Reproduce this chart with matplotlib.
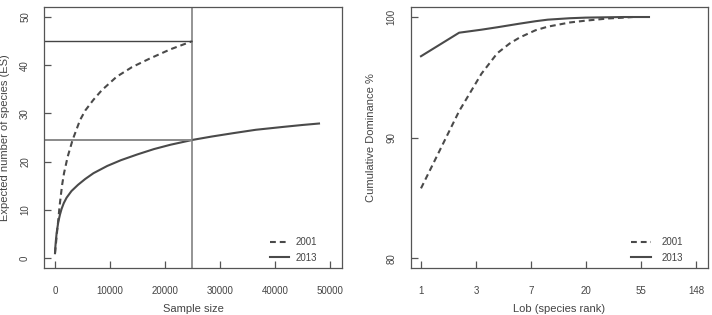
import numpy as np
import matplotlib
matplotlib.use("Agg")
import matplotlib.pyplot as plt

plt.rcParams['font.family'] = ['Liberation Sans', 'DejaVu Sans']

# ---- data: rarefaction (left) ----
samp_2001 = [1, 120, 240, 420, 600, 800, 1030, 1300, 1640, 2300, 3200, 4545, 5500,
             6970, 8500, 11200, 14000, 17270, 21000, 25000]
es_2001 = [1, 2.4, 3.8, 6.0, 7.9, 10.4, 12.7, 15.2, 17.6, 21.0, 24.5, 28.6, 30.6,
           32.8, 34.8, 37.6, 39.6, 41.4, 43.3, 45.0]
samp_2013 = [1, 60, 150, 300, 600, 900, 1200, 1600, 2100, 3000, 4200, 5500, 7000,
             9500, 12000, 15000, 18000, 21000, 25000, 28500, 32400, 36500, 41500, 45000, 48000]
es_2013 = [1, 2.2, 3.5, 5.2, 7.5, 9.0, 10.2, 11.4, 12.5, 13.9, 15.2, 16.4, 17.6,
           19.1, 20.3, 21.5, 22.6, 23.5, 24.5, 25.2, 25.9, 26.6, 27.2, 27.6, 27.9]
ref_sample = 25000
ref_es_2001 = 45
ref_es_2013 = 24.5
left_xticks = [0, 10000, 20000, 30000, 40000, 50000]
left_yticks = [0, 10, 20, 30, 40, 50]

# ---- data: cumulative dominance (right) ----
rank_2001 = [1, 2, 3, 4, 5, 6, 8, 10, 15, 20, 30, 40, 47]
dom_2001 = [85.8, 92.2, 95.3, 97.0, 97.8, 98.3, 98.9, 99.2, 99.55, 99.7, 99.88, 99.95, 100]
rank_2013 = [1, 2, 3, 4, 6, 8, 10, 15, 20, 30, 40, 63]
dom_2013 = [96.75, 98.7, 98.95, 99.15, 99.45, 99.65, 99.78, 99.9, 99.95, 99.98, 100, 100]
right_xtick_labels = ["1", "3", "7", "20", "55", "148"]
right_yticks = [80, 90, 100]

line_col = '#4a4a4a'
frame_col = '#555555'
text_col = '#444444'
dash = (0, (2.8, 1.9))

fig = plt.figure(figsize=(7.12, 3.15), dpi=100)
ax1 = fig.add_axes([44/712, 1-268/315, 298/712, 261/315])
ax2 = fig.add_axes([410.7/712, 1-268/315, 297/712, 261/315])

for ax in (ax1, ax2):
    for s in ax.spines.values():
        s.set_color(frame_col)
        s.set_linewidth(0.9)
    ax.tick_params(direction='in', length=5, width=0.9, colors=frame_col,
                   labelcolor=text_col, labelsize=7)
    ax.tick_params(axis='x', pad=13)
    ax.tick_params(axis='y', pad=10, labelrotation=90)

# left panel
ax1.plot(samp_2001, es_2001, color=line_col, lw=1.5, linestyle=dash, label='2001')
ax1.plot(samp_2013, es_2013, color=line_col, lw=1.5, label='2013')
ax1.axvline(ref_sample, color='#777777', lw=1.1)
ax1.hlines(ref_es_2001, -2000, ref_sample, color='#444444', lw=1.0)
ax1.hlines(ref_es_2013, -2000, ref_sample, color='#8a8a8a', lw=1.4)
ax1.set_xlim(-2000, 52182)
ax1.set_ylim(-2.07, 52.07)
ax1.set_xticks(left_xticks)
ax1.set_yticks(left_yticks)
ax1.set_xlabel('Sample size', fontsize=8, color=text_col, labelpad=6)
ax1.set_ylabel('Expected number of species (ES)', fontsize=8, color=text_col, labelpad=7)
for lab in ax1.get_yticklabels():
    lab.set_va('center')
leg1 = ax1.legend(loc='lower right', bbox_to_anchor=(0.93, 0.005), frameon=False,
                  fontsize=7, handlelength=2.0, handletextpad=0.7, labelspacing=0.55,
                  borderaxespad=0)
for t in leg1.get_texts():
    t.set_color(text_col)

# right panel
ax2.plot(rank_2001, dom_2001, color=line_col, lw=1.5, linestyle=dash, label='2001')
ax2.plot(rank_2013, dom_2013, color=line_col, lw=1.5, label='2013')
ax2.set_xscale('log')
ax2.set_xlim(np.exp(-0.187), np.exp(5.21))
ax2.set_xticks(np.exp(np.arange(len(right_xtick_labels))))
ax2.set_xticklabels(right_xtick_labels)
ax2.xaxis.set_minor_locator(matplotlib.ticker.NullLocator())
ax2.set_ylim(79.2, 100.83)
ax2.set_yticks(right_yticks)
ax2.set_xlabel('Lob (species rank)', fontsize=8, color=text_col, labelpad=6)
ax2.set_ylabel('Cumulative Dominance %', fontsize=8, color=text_col, labelpad=8)
for lab in ax2.get_yticklabels():
    lab.set_va('center')
leg2 = ax2.legend(loc='lower right', bbox_to_anchor=(0.93, 0.005), frameon=False,
                  fontsize=7, handlelength=2.0, handletextpad=1.1, labelspacing=0.55,
                  borderaxespad=0)
for t in leg2.get_texts():
    t.set_color(text_col)

fig.savefig('out.png', dpi=100)
